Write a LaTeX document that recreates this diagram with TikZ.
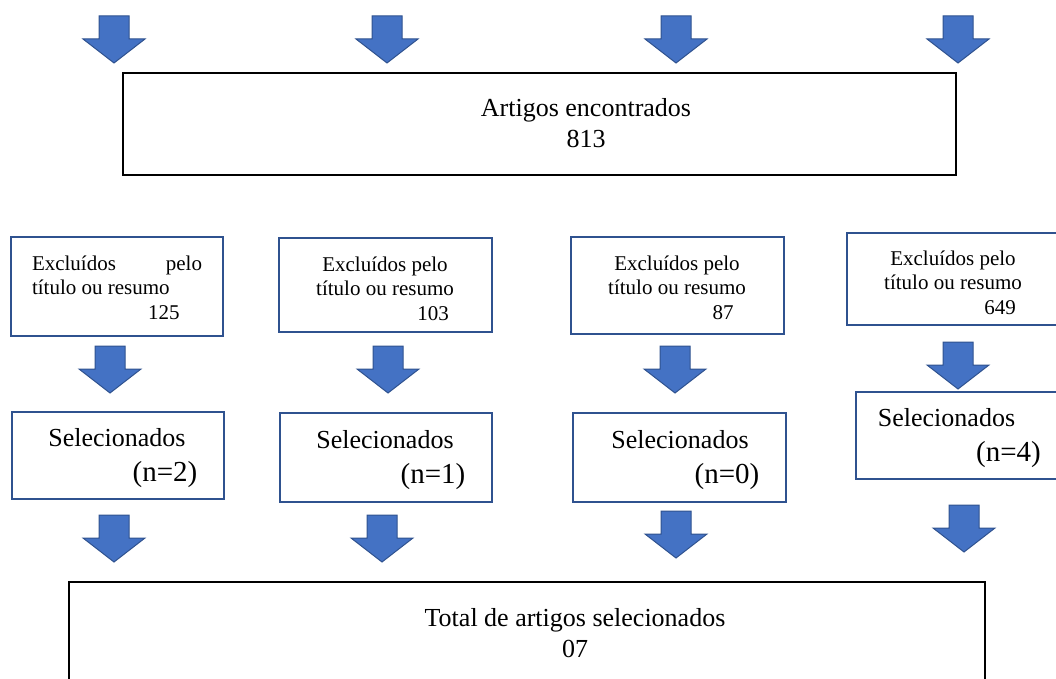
\documentclass[tikz,border=0pt]{standalone}
\usepackage{fontspec}
\setmainfont{Liberation Serif}
\usepackage{tikz}
\usetikzlibrary{positioning}
\usepackage{xcolor}
\definecolor{ArrowFill}{HTML}{4472C4}
\definecolor{ArrowEdge}{HTML}{2F528F}
\definecolor{BoxEdge}{HTML}{2F528F}
\tikzset{
  kbox/.style={draw=black, line width=2.6pt, fill=white, inner sep=0pt},
  ebox/.style={draw=BoxEdge, line width=2.2pt, fill=white, inner sep=0pt},
  tbig/.style={font=\fontsize{26}{31}\selectfont, align=center, inner sep=0pt},
  tsel/.style={font=\fontsize{26}{35}\selectfont, align=center, inner sep=0pt},
  tsmall/.style={font=\fontsize{21}{24.5}\selectfont, align=center, inner sep=0pt},
  barrow/.style={fill=ArrowFill, draw=ArrowEdge, line width=1pt, line join=miter},
}
% block arrow: #1 = centre x, #2 = top y
\newcommand{\blockarrow}[2]{%
  \draw[barrow] (#1-15,#2) -- (#1+15,#2) -- (#1+15,#2+23) -- (#1+31,#2+23)
    -- (#1,#2+47) -- (#1-31,#2+23) -- (#1-15,#2+23) -- cycle;}
\newcommand{\nbig}{\fontsize{29}{35}\selectfont}

\begin{document}
\begin{tikzpicture}[x=1pt, y=-1pt]
    \clip (0,0) rectangle (1056,679);

    % top row of arrows
    \blockarrow{114}{16}
    \blockarrow{387}{16}
    \blockarrow{676}{16}
    \blockarrow{958}{16}

    \node[kbox, minimum width=833pt, minimum height=102pt] (found) at (539.5,124) {};
    \node[tbig] (foundtxt) at (586,123.5) {Artigos encontrados\\813};

    % excluded by title or abstract
    \node[ebox, minimum width=212pt, minimum height=99pt] (excla) at (117,286.5) {};
    \node[ebox, minimum width=213pt, minimum height=94pt] (exclb) at (385.5,285) {};
    \node[ebox, minimum width=213pt, minimum height=97pt] (exclc) at (677.5,285.5) {};
    \node[ebox, minimum width=213pt, minimum height=92pt] (excld) at (953.5,279) {};
    \node[tsmall, align=left] (exclatxt) at (117,287.5)
      {\makebox[170pt][s]{Excluídos pelo}\\título ou resumo\\\hspace*{116pt}125};
    \node[tsmall] (exclbtxt) at (385,288.5) {Excluídos pelo\\título ou resumo\\\hspace*{96pt}103};
    \node[tsmall] (exclctxt) at (677,287.5) {Excluídos pelo\\título ou resumo\\\hspace*{92pt}87};
    \node[tsmall] (excldtxt) at (953,282.5) {Excluídos pelo\\título ou resumo\\\hspace*{94pt}649};

    % middle row of arrows
    \blockarrow{110}{346}
    \blockarrow{388}{346}
    \blockarrow{675}{346}
    \blockarrow{958}{342}

    % selected
    \node[ebox, minimum width=212pt, minimum height=87pt] (sela) at (118,455.5) {};
    \node[ebox, minimum width=212pt, minimum height=89pt] (selb) at (386,457.5) {};
    \node[ebox, minimum width=213pt, minimum height=89pt] (selc) at (679.5,457.5) {};
    \node[ebox, minimum width=213pt, minimum height=87pt] (seld) at (962.5,435.5) {};
    \node[tsel] (selatxt) at (117,458) {Selecionados\\{\nbig\hspace*{96pt}(n=2)}};
    \node[tsel] (selbtxt) at (385,460) {Selecionados\\{\nbig\hspace*{96pt}(n=1)}};
    \node[tsel] (selctxt) at (680,460) {Selecionados\\{\nbig\hspace*{94pt}(n=0)}};
    \node[tsel] (seldtxt) at (946.5,438) {Selecionados\\{\nbig\hspace*{124pt}(n=4)}};

    % bottom row of arrows
    \blockarrow{114}{515}
    \blockarrow{382}{515}
    \blockarrow{676}{511}
    \blockarrow{964}{505}

    \node[kbox, minimum width=916pt, minimum height=123pt] (total) at (527,643.5) {};
    \node[tbig] (totaltxt) at (575,633.5) {Total de artigos selecionados\\07};
  \end{tikzpicture}
\end{document}
